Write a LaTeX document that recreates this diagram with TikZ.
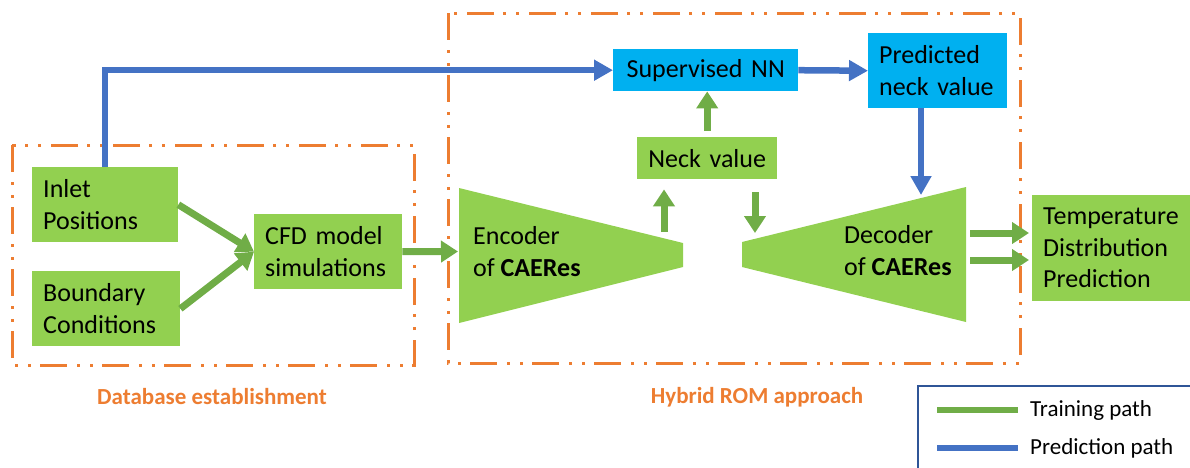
\documentclass[tikz,border=0pt]{standalone}
\usepackage{fontspec}
\setmainfont{Carlito}
\usetikzlibrary{arrows.meta,calc}
\definecolor{gfill}{HTML}{92D050}
\definecolor{garrow}{HTML}{70AD47}
\definecolor{bfill}{HTML}{00B0F0}
\definecolor{barrow}{HTML}{4472C4}
\definecolor{orng}{HTML}{ED7D31}
\definecolor{lgborder}{HTML}{2F5597}
\begin{document}
\begin{tikzpicture}[x=1pt,y=-1pt,
  boxtxt/.style={anchor=north west, inner xsep=11pt, inner ysep=0pt,
    font=\fontsize{26}{31.5}\selectfont},
  gbox/.style={boxtxt, fill=gfill},
  bbox/.style={boxtxt, fill=bfill},
  garr/.style={draw=garrow, line width=7pt, -{Triangle[length=17pt,width=21pt]}},
  barr/.style={draw=barrow, line width=6.5pt, -{Triangle[length=19pt,width=20pt]}},
  region/.style={draw=orng, line width=3pt,
    dash pattern=on 27pt off 10pt on 3pt off 10pt on 3pt off 9pt},
  regionlabel/.style={text=orng, font=\fontsize{23}{26}\selectfont\bfseries},
  legtxt/.style={anchor=west, inner sep=0pt, font=\fontsize{23}{26}\selectfont},
  trap/.style={fill=gfill},
  traptxt/.style={anchor=west, inner sep=0pt, align=left,
    font=\fontsize{26}{32}\selectfont}]
\useasboundingbox (0,0) rectangle (1190,467);
\clip (0,0) rectangle (1190,467);

% region frames
\draw[region] (12,145) rectangle (414,365);
\draw[region] (448,13) rectangle (1020,363);
\node[regionlabel] (dblabel) at (212,397) {Database establishment};
\node[regionlabel] (romlabel) at (757,397) {Hybrid ROM approach};

% boxes
\node[gbox, minimum width=146pt, minimum height=75pt, text width=124pt, align=left] (inlet) at (32,167) {Inlet\\Positions};
\node[gbox, minimum width=148pt, minimum height=75pt, text width=126pt, align=left] (bound) at (32,271) {Boundary\\Conditions};
\node[gbox, minimum width=148pt, minimum height=75pt, text width=126pt, align=left] (cfd) at (254,214) {CFD model\\simulations};
\node[bbox, minimum width=185pt, minimum height=42pt, text width=163pt, align=center] (snn) at (613,49) {Supervised NN};
\node[bbox, minimum width=139pt, minimum height=75pt, text width=117pt, align=left] (pred) at (868,33) {Predicted\\neck value};
\node[gbox, minimum width=140pt, minimum height=42pt, text width=118pt, align=center] (neck) at (637,137) {Neck value};
\node[gbox, minimum width=162pt, minimum height=106pt, text width=140pt, align=left] (temp) at (1032,195) {Temperature\\Distribution\\Prediction};

% encoder / decoder
\fill[trap] (459,188) -- (683,243) -- (683,267) -- (459,323) -- cycle;
\fill[trap] (742,242) -- (966,187) -- (966,322) -- (742,267) -- cycle;
\node[traptxt] (enc) at (473,252) {Encoder\\of \textbf{CAERes}};
\node[traptxt] (dec) at (844,251) {Decoder\\of \textbf{CAERes}};
\coordinate (encin) at (458,251.5);
\coordinate (encout) at (664,232);
\coordinate (decin) at (755,233);
\coordinate (decpred) at (921,195);
\coordinate (decout1) at (970,233);
\coordinate (decout2) at (970,260);

% training arrows
\draw[garr] (inlet.east) -- (cfd.west);
\draw[garr] (bound.east) -- (cfd.west);
\draw[garr] (cfd.east) -- (encin);
\draw[garr, shorten >=10pt] (encout) -- (encout |- neck.south);
\draw[garr, shorten <=6pt] (neck.north) -- (neck.north |- snn.south);
\draw[garr, shorten <=13pt] (decin |- neck.south) -- (decin);
\draw[garr, shorten >=3pt] (decout1) -- (decout1 -| temp.west);
\draw[garr, shorten >=3pt] (decout2) -- (decout2 -| temp.west);

% prediction arrows
\draw[barr] (inlet.north) |- (snn.west);
\draw[barr] (snn.east) -- (pred.west);
\draw[barr] (decpred |- pred.south) -- (decpred);

% legend
\draw[draw=lgborder, line width=1.5pt] (918,386) rectangle (1196,472);
\coordinate (lg1a) at (937,410);
\coordinate (lg1b) at (1018,410);
\coordinate (lg2a) at (937,448);
\coordinate (lg2b) at (1018,448);
\draw[draw=garrow, line width=6.5pt] (lg1a) -- (lg1b);
\draw[draw=barrow, line width=6.5pt] (lg2a) -- (lg2b);
\node[legtxt] (lgtrain) at (1030,410) {Training path};
\node[legtxt] (lgpred) at (1030,448) {Prediction path};
\end{tikzpicture}
\end{document}
